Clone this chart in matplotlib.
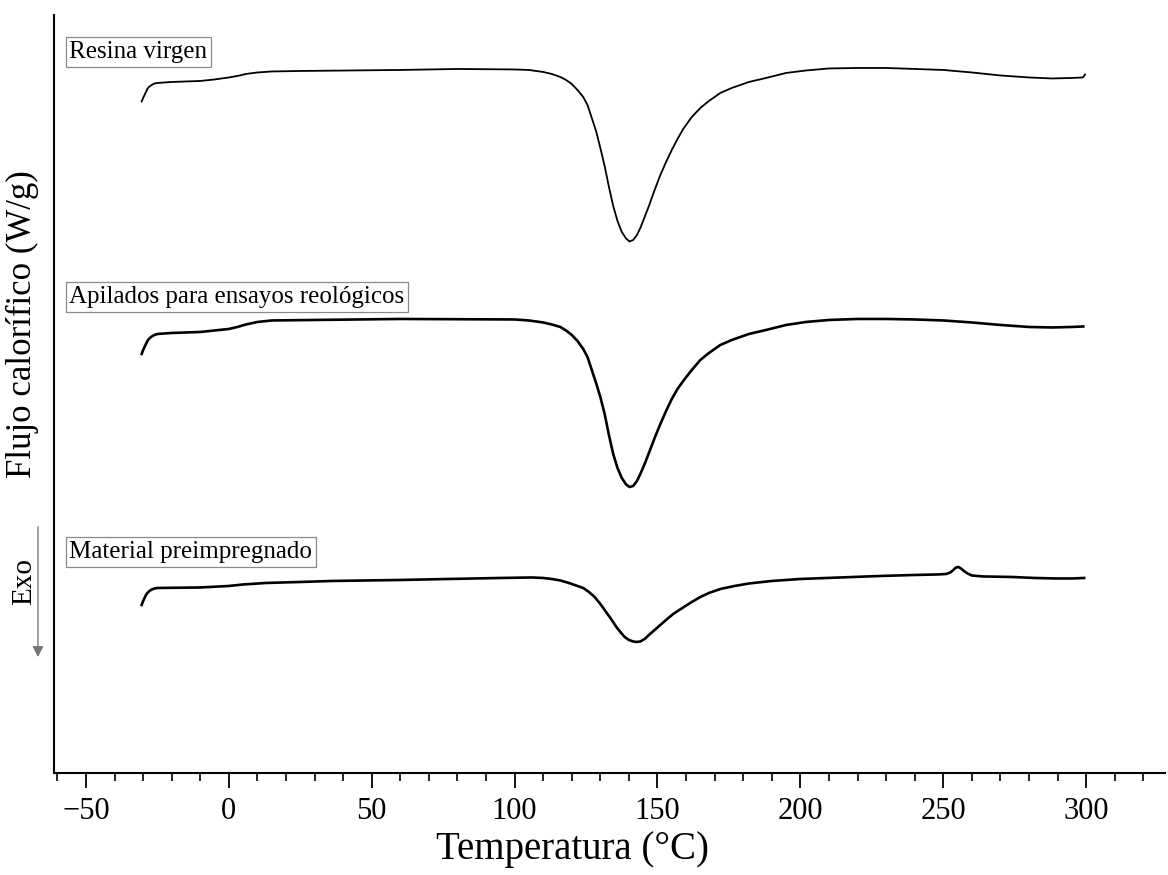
import matplotlib
matplotlib.use("Agg")
import matplotlib.pyplot as plt
import numpy as np

# DSC curves, heat flow in arbitrary offset units
t_resina = [-30.5, -30, -29.5, -29, -28.5, -28, -27, -26, -25, -20, -10, -5, 0, 3, 6, 10, 15, 25, 60, 80,
            100, 105, 110, 113, 116, 118, 120, 122, 124, 125.5, 127, 128.5, 130, 131.5, 133, 134.5, 136,
            137.5, 139, 140.2, 141.5, 142.8, 144, 145.5, 147, 149, 151, 153, 155, 157, 159, 162, 165,
            168, 172, 176, 182, 188, 195, 202, 210, 220, 230, 240, 250, 260, 270, 280, 288, 295, 298.8,
            299.3, 299.6]
q_resina = [6.715, 6.75, 6.78, 6.81, 6.84, 6.86, 6.88, 6.895, 6.90, 6.91, 6.92, 6.935, 6.955, 6.97, 6.99,
            7.005, 7.015, 7.02, 7.03, 7.04, 7.035, 7.03, 7.01, 6.99, 6.96, 6.93, 6.89, 6.83, 6.76, 6.68,
            6.55, 6.42, 6.25, 6.07, 5.86, 5.67, 5.52, 5.41, 5.345, 5.315, 5.33, 5.38, 5.45, 5.56, 5.67,
            5.83, 5.98, 6.11, 6.23, 6.34, 6.44, 6.56, 6.65, 6.72, 6.80, 6.85, 6.91, 6.95, 7.00, 7.025,
            7.045, 7.05, 7.05, 7.04, 7.03, 7.005, 6.975, 6.955, 6.945, 6.95, 6.955, 6.97, 6.985]

t_apilados = [-30.5, -30, -29.5, -29, -28.5, -28, -27, -26, -25, -20, -10, -5, 0, 3, 6, 10, 15, 30, 60,
              100, 105, 110, 113, 116, 118, 120, 122, 124, 125.5, 127, 128.5, 130, 131.5, 133, 134.5,
              136, 137.5, 139, 140.2, 141.5, 142.8, 144, 145.5, 147, 149, 151, 153, 155, 157, 159, 162,
              165, 168, 172, 176, 182, 188, 195, 202, 210, 220, 230, 240, 250, 260, 270, 280, 288, 295,
              299]
q_apilados = [4.19, 4.23, 4.26, 4.29, 4.32, 4.34, 4.365, 4.38, 4.39, 4.40, 4.41, 4.425, 4.44, 4.46, 4.485,
              4.51, 4.525, 4.53, 4.54, 4.535, 4.525, 4.505, 4.485, 4.46, 4.425, 4.38, 4.32, 4.24, 4.16,
              4.03, 3.90, 3.76, 3.59, 3.38, 3.19, 3.05, 2.95, 2.885, 2.86, 2.87, 2.92, 2.99, 3.09, 3.20,
              3.35, 3.49, 3.62, 3.74, 3.84, 3.92, 4.03, 4.13, 4.20, 4.28, 4.33, 4.39, 4.43, 4.48, 4.51,
              4.53, 4.54, 4.54, 4.535, 4.525, 4.505, 4.48, 4.46, 4.455, 4.46, 4.465]

t_prepreg = [-30.5, -30, -29.5, -29, -28.5, -28, -27, -26, -25, -10, 0, 5, 13, 25, 36, 60, 77, 95, 106,
             110, 113, 116, 119, 122, 124, 126, 128, 130, 132, 134, 135.6, 137, 138.5, 140, 141.5, 142.6,
             144, 145.5, 147, 149, 151, 153, 155.5, 158.7, 162, 165, 168, 172, 177, 182, 190, 200, 214,
             228, 240, 248, 251, 252.5, 253.5, 254.5, 255.3, 256.2, 257.2, 258.5, 260, 264, 274, 282,
             289.5, 295, 299.3]
q_prepreg = [1.68, 1.72, 1.75, 1.78, 1.80, 1.815, 1.835, 1.845, 1.85, 1.855, 1.87, 1.885, 1.90, 1.91,
             1.92, 1.93, 1.94, 1.95, 1.955, 1.95, 1.94, 1.925, 1.90, 1.87, 1.85, 1.81, 1.76, 1.69, 1.61,
             1.53, 1.46, 1.41, 1.36, 1.33, 1.315, 1.31, 1.315, 1.34, 1.38, 1.43, 1.48, 1.53, 1.59, 1.65,
             1.71, 1.76, 1.80, 1.84, 1.87, 1.895, 1.92, 1.94, 1.955, 1.97, 1.98, 1.985, 1.99, 2.005,
             2.03, 2.055, 2.06, 2.045, 2.02, 1.995, 1.975, 1.965, 1.96, 1.95, 1.945, 1.945, 1.95]

labels = ["Resina virgen", "Apilados para ensayos reológicos", "Material preimpregnado"]
label_y = [7.21, 4.76, 2.21]

plt.rcParams["font.family"] = ["Liberation Serif", "DejaVu Serif"]
plt.rcParams["axes.unicode_minus"] = True

fig = plt.figure(figsize=(11.68, 8.75), dpi=100)
ax = fig.add_axes([0.0462, 0.1166, 0.951, 0.8663])

ax.plot(t_resina, q_resina, color="black", lw=1.3)
ax.plot(t_apilados, q_apilados, color="black", lw=1.9)
ax.plot(t_prepreg, q_prepreg, color="black", lw=1.9)

for lab, y in zip(labels, label_y):
    ax.text(-55.8, y, lab, fontsize=18, ha="left", va="center",
            bbox=dict(boxstyle="square,pad=0.15", facecolor="white", edgecolor="#8a8a8a", lw=0.9))

ax.set_xlim(-61.2, 327.5)
ax.set_ylim(0, 7.58)
ax.set_xticks(np.arange(-50, 301, 50))
ax.set_xticks(np.arange(-60, 330, 10), minor=True)
ax.set_yticks([])
ax.tick_params(axis="x", which="major", length=11, width=1.3, labelsize=22, pad=6)
ax.tick_params(axis="x", which="minor", length=6, width=1.2)
for side in ["top", "right"]:
    ax.spines[side].set_visible(False)
for side in ["left", "bottom"]:
    ax.spines[side].set_linewidth(1.5)

fig.text(0.49, 0.029, "Temperatura (°C)", fontsize=28, ha="center", va="center")
fig.text(0.019, 0.629, "Flujo calorífico (W/g)", rotation=90, fontsize=25, ha="center", va="center")

# Exo arrow
fig.text(0.021, 0.335, "Exo", rotation=90, fontsize=21, ha="center", va="center")
ax.annotate("", xy=(0.0325, 0.249), xytext=(0.0325, 0.398), xycoords="figure fraction",
            textcoords="figure fraction",
            arrowprops=dict(arrowstyle="-|>", color="#777777", lw=1.0, mutation_scale=16,
                            shrinkA=0, shrinkB=0))

fig.savefig("out.png", dpi=100)
